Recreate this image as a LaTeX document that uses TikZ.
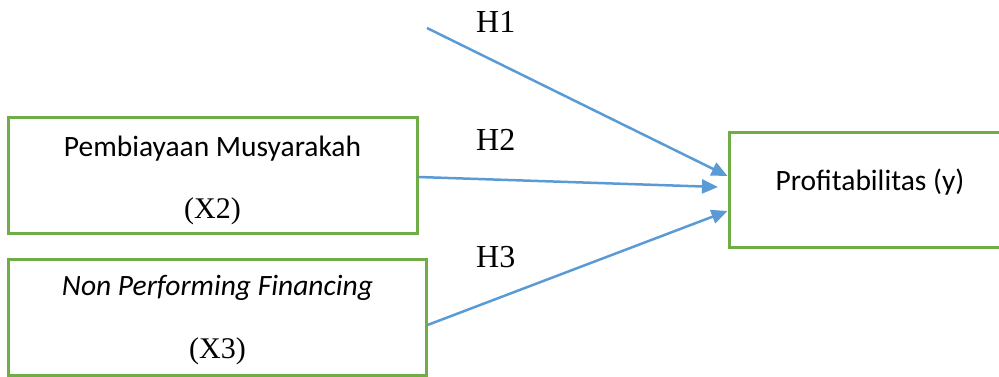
\documentclass[tikz,border=0pt]{standalone}
\usepackage{fontspec}
\setmainfont{Liberation Serif}
\newfontfamily\calib{Carlito}
\usetikzlibrary{arrows.meta}
\definecolor{boxgreen}{HTML}{70AD47}
\definecolor{arrowblue}{HTML}{5B9BD5}
\tikzset{
  varbox/.style={draw=boxgreen, line width=3pt, minimum width=#1, inner sep=0pt, minimum height=116pt},
  lbl/.style={anchor=base, inner sep=0pt, font=\calib\fontsize{29.5}{32}\selectfont},
  sym/.style={anchor=base, inner sep=0pt, font=\fontsize{30}{34}\selectfont},
  hyp/.style={anchor=base west, inner sep=0pt, font=\fontsize{32}{34}\selectfont},
  link/.style={draw=arrowblue, line width=2.5pt, -{Triangle[length=16pt,width=14pt]}}
}
\begin{document}
\begin{tikzpicture}[x=1pt,y=-1pt]
\useasboundingbox (0,0) rectangle (999,376);
\node[varbox=409pt] (x2) at (212.5,175) {};
\node[varbox=418pt] (x3) at (217,317) {};
\node[varbox=272pt, minimum height=115pt] (y) at (865,189.5) {};
\node[lbl] (t2a) at (212.5,156) {Pembiayaan Musyarakah};
\node[sym] (t2b) at (212.5,218) {(X2)};
\node[lbl] (t3a) at (217.5,295) {\itshape Non Performing Financing};
\node[sym] (t3b) at (217.5,358) {(X3)};
\node[lbl] (ty) at (870,190) {Profitabilitas (y)};
\node[hyp] (h1) at (476,32) {H1};
\node[hyp] (h2) at (476,150) {H2};
\node[hyp] (h3) at (476,267) {H3};
\coordinate (s1) at (427,28);
\coordinate (e2) at (718,187);
\draw[link] (s1) -- (y.west |- 0,176);
\draw[link] (x2.east |- 0,177) -- (e2);
\draw[link] (x3.east |- 0,325) -- (y.west |- 0,211);
\end{tikzpicture}
\end{document}
